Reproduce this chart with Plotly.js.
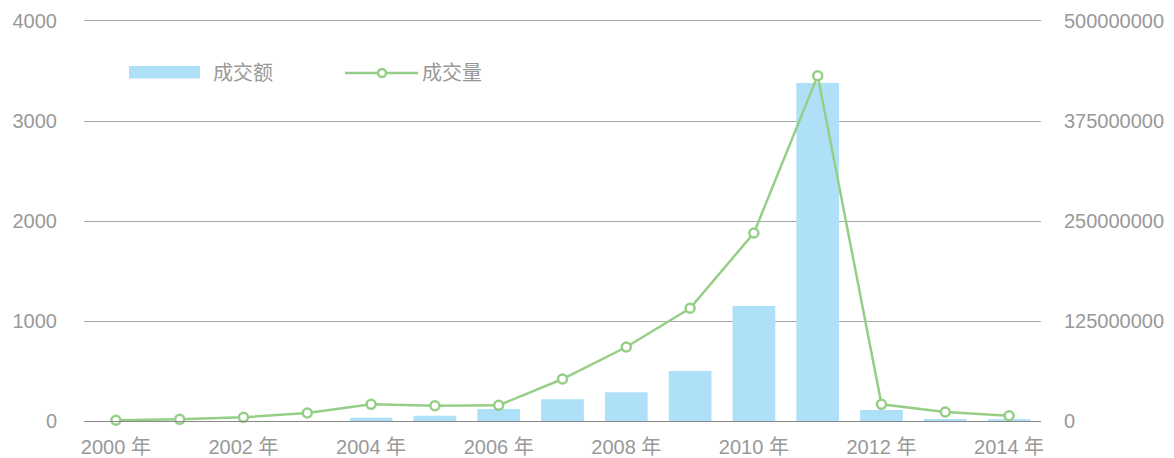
<!DOCTYPE html>
<html>
<head>
<meta charset="utf-8">
<script src="https://cdn.plot.ly/plotly-3.0.1.min.js"></script>
<style>
  html, body { margin: 0; padding: 0; background: #fff; }
  #chart { width: 1174px; height: 458px; }
</style>
</head>
<body>
<div id="chart"></div>
<script>
// years on the category axis
const years = [2000, 2001, 2002, 2003, 2004, 2005, 2006, 2007, 2008, 2009, 2010, 2011, 2012, 2013, 2014];
const yearLabels = years.map(y => y + " 年");

// 成交额 (bars, left axis)
const turnover = [0, 0, 0, 0, 33, 53, 120, 218, 288, 500, 1150, 3380, 110, 20, 18];

// 成交量 (line, right axis)
const volume = [1000000, 2100000, 4600000, 10000000, 20800000, 19000000, 19600000,
                52500000, 92500000, 141000000, 235000000, 431500000, 20800000, 11200000, 6600000];

const leftTicks = [0, 1000, 2000, 3000, 4000];
const rightTicks = [0, 125000000, 250000000, 375000000, 500000000];
const xTickLabels = ["2000 年", "2002 年", "2004 年", "2006 年", "2008 年", "2010 年", "2012 年", "2014 年"];

const FONT = "Liberation Sans, Arial, Noto Sans CJK SC, sans-serif";
const GREY = "#999999";
const GRID = "#a8a8a8";
const BAR = "#aee0f8";
const LINE = "#95cf87";

const traces = [
  {
    x: yearLabels,
    y: turnover,
    name: "成交额",
    type: "bar",
    marker: { color: BAR },
    width: 0.67
  },
  {
    x: yearLabels,
    y: volume,
    name: "成交量",
    type: "scatter",
    mode: "lines+markers",
    yaxis: "y2",
    line: { color: LINE, width: 2.5 },
    marker: { size: 9, color: "#ffffff", line: { color: LINE, width: 2.5 } },
    cliponaxis: false
  }
];

// plot box in pixels, used for the hand-drawn legend
const plotL = 84, plotR = 1041, plotT = 21, plotB = 421;
const toX = (p) => (p - plotL) / (plotR - plotL);
const toY = (p) => (plotB - p) / (plotB - plotT);

const shapes = [
  // top grid line (plotly skips the one on the range edge); half-pixel nudge keeps it crisp
  { type: "line", xref: "paper", yref: "paper", x0: 0, x1: 1, y0: toY(20.5), y1: toY(20.5),
    line: { color: GRID, width: 1 }, layer: "below" },
  // legend swatches
  { type: "rect", xref: "paper", yref: "paper",
    x0: toX(129), x1: toX(200), y0: toY(78.5), y1: toY(66),
    fillcolor: BAR, line: { width: 0 } },
  { type: "line", xref: "paper", yref: "paper",
    x0: toX(345), x1: toX(418), y0: toY(73), y1: toY(73),
    line: { color: LINE, width: 2.5 } },
  { type: "circle", xref: "paper", yref: "paper",
    x0: toX(378), x1: toX(386), y0: toY(77), y1: toY(69),
    fillcolor: "#ffffff", line: { color: LINE, width: 2.5 } }
];

const annotations = [
  { xref: "paper", yref: "paper", x: toX(211), y: toY(73), xanchor: "left", yanchor: "middle",
    text: "成交额", showarrow: false, font: { family: FONT, size: 20, color: GREY } },
  { xref: "paper", yref: "paper", x: toX(420), y: toY(73), xanchor: "left", yanchor: "middle",
    text: "成交量", showarrow: false, font: { family: FONT, size: 20, color: GREY } }
];

const layout = {
  width: 1174,
  height: 458,
  margin: { l: plotL, r: 1174 - plotR, t: plotT, b: 458 - plotB },
  paper_bgcolor: "#ffffff",
  plot_bgcolor: "#ffffff",
  showlegend: false,
  font: { family: FONT, size: 20, color: GREY },
  xaxis: {
    type: "category",
    tickmode: "array",
    tickvals: xTickLabels,
    ticktext: xTickLabels,
    showgrid: false,
    showline: true,
    linecolor: "#888888",
    linewidth: 1,
    ticks: "",
    ticklabelstandoff: 8,
    tickfont: { family: FONT, size: 20, color: GREY },
    range: [-0.5, 14.5]
  },
  yaxis: {
    range: [0, 4000],
    tickmode: "array",
    tickvals: leftTicks,
    showgrid: true,
    gridcolor: GRID,
    gridwidth: 1,
    zeroline: false,
    showline: false,
    ticks: "",
    ticklabelstandoff: 26,
    tickfont: { family: FONT, size: 20, color: GREY }
  },
  yaxis2: {
    overlaying: "y",
    side: "right",
    range: [0, 500000000],
    tickmode: "array",
    tickvals: rightTicks,
    ticktext: rightTicks.map(v => String(v)),
    showgrid: false,
    zeroline: false,
    showline: false,
    ticks: "",
    ticklabelstandoff: 22,
    tickfont: { family: FONT, size: 20, color: GREY }
  },
  shapes: shapes,
  annotations: annotations
};

Plotly.newPlot("chart", traces, layout, { displayModeBar: false, staticPlot: true });
</script>
</body>
</html>
